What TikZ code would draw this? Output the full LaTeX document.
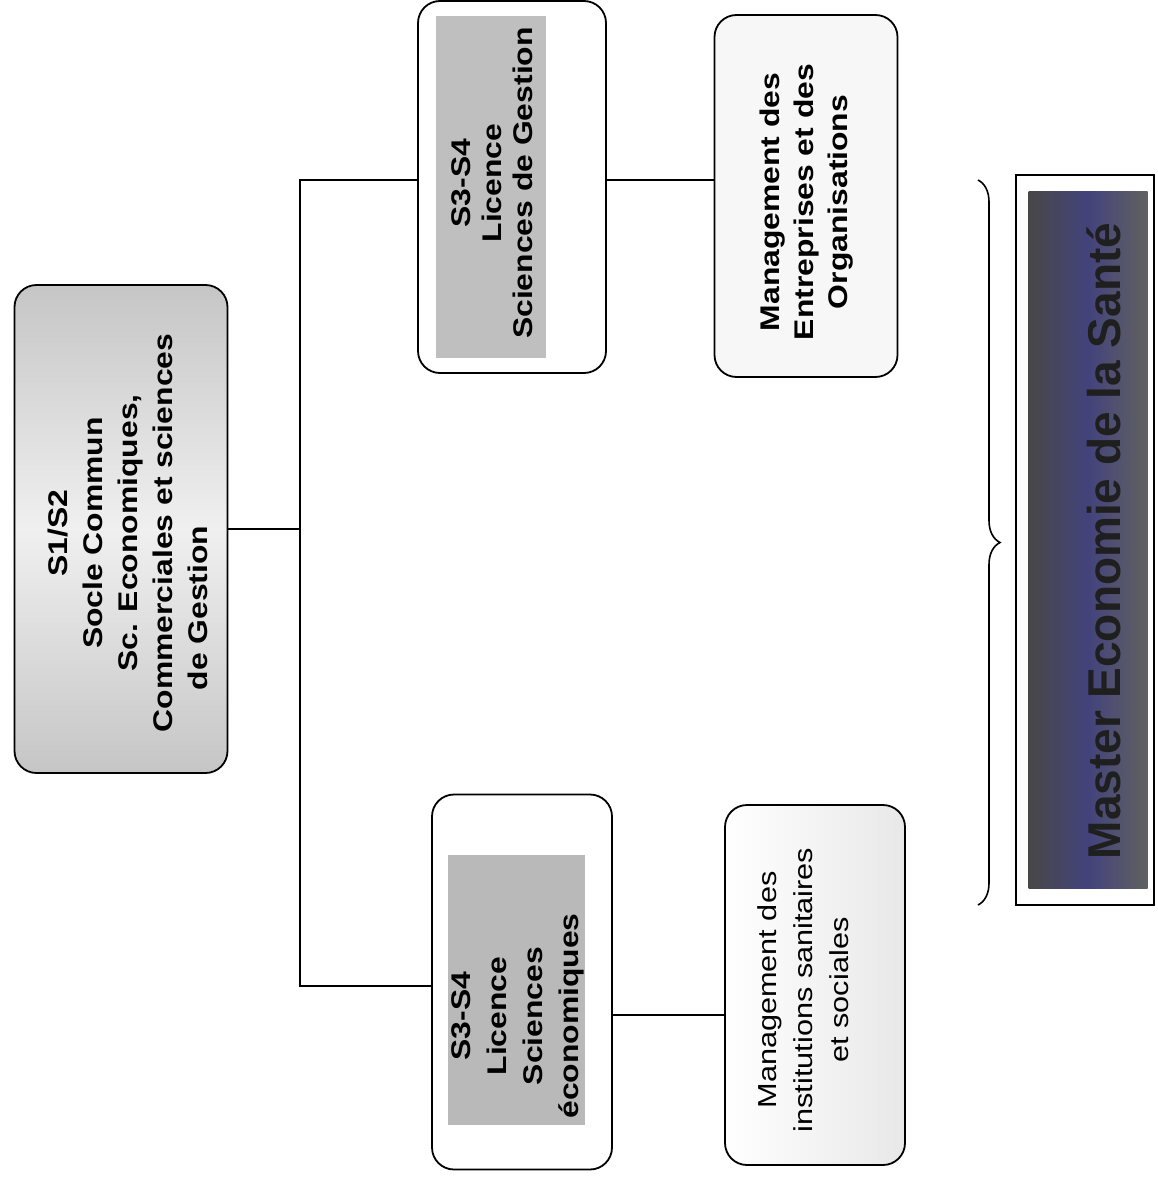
\documentclass[tikz,border=0pt]{standalone}
\usepackage{fontspec}
\setmainfont{Liberation Sans}
\newfontfamily\boxfont[FakeStretch=1.18]{Liberation Sans}
\usetikzlibrary{decorations.pathreplacing}
\tikzset{x=1pt, y=-1pt, % one unit is one pixel of the scan
roundbox/.style={ % outer frames of the boxes
draw,
line width=1.8pt,
rounded corners=22pt,
inner sep=0pt},
panel/.style={ % grey panels inside the S3-S4 boxes
inner sep=0pt},
vlabel/.style={ % texts read from bottom to top
rotate=90,
align=center,
inner sep=0pt},
link/.style={ % connecting lines
draw,
line width=1.4pt}}

\begin{document}
\begin{tikzpicture}
  \useasboundingbox (0,0) rectangle (1158,1180);
  % common core
  \node[roundbox, minimum width=213pt, minimum height=488pt,
        top color=gray!45, bottom color=gray!45, middle color=gray!12] (socle) at (121,529) {};
  \node[vlabel, font=\boxfont\bfseries\fontsize{27}{35}\selectfont] (socletxt) at (128,533)
    {S1/S2\\Socle Commun\\Sc. Economiques,\\Commerciales et sciences\\de Gestion\hspace*{150pt}};
  % licences
  \node[roundbox, fill=white, minimum width=188pt, minimum height=372pt] (licgest) at (512,187) {};
  \node[panel, fill=gray!50, minimum width=110pt, minimum height=342pt] (licgestbg) at (491,187) {};
  \node[vlabel, font=\boxfont\bfseries\fontsize{27}{31}\selectfont] (licgesttxt) at (492,183)
    {S3-S4\\Licence\\Sciences de Gestion};
  \node[roundbox, fill=white, minimum width=180pt, minimum height=375pt] (liceco) at (522,982) {};
  \node[panel, fill=gray!55, minimum width=137pt, minimum height=270pt] (licecobg) at (516,990) {};
  \node[vlabel, font=\boxfont\bfseries\fontsize{27}{36}\selectfont] (licecotxt) at (518,1016)
    {S3-S4\\Licence\\Sciences\\économiques};
  % specialisations
  \node[roundbox, fill=gray!6, minimum width=183pt, minimum height=362pt] (mgtent) at (806,196) {};
  \node[vlabel, font=\boxfont\bfseries\fontsize{27}{34}\selectfont] (mgtenttxt) at (807,202)
    {Management des\\Entreprises et des\\Organisations};
  \node[roundbox, left color=white, right color=gray!18, minimum width=180pt, minimum height=360pt] (mgtsan) at (815,985) {};
  \node[vlabel, font=\boxfont\fontsize{26}{36}\selectfont] (mgtsantxt) at (803,990)
    {Management des\\institutions sanitaires\\et sociales};
  % master
  \node[draw, line width=1.8pt, fill=white, inner sep=0pt, minimum width=138pt, minimum height=730pt] (master) at (1085,540) {};
  \node[panel, left color=black!72, right color=black!62, middle color=gray!70!blue!75!black,
        minimum width=119pt, minimum height=697pt] (masterbg) at (1088,540) {};
  \node[vlabel, text=black!88, font=\bfseries\fontsize{46}{50}\selectfont] (mastertxt) at (1104,541)
    {Master Economie de la Santé};
  % connections
  \coordinate (forktop) at (300,180);
  \coordinate (forkbot) at (300,986);
  \draw[link] (socle.east) -- (socle.east -| forktop);
  \draw[link] (licgest.west |- forktop) -- (forktop) -- (forkbot) -- (liceco.west |- forkbot);
  \draw[link] (licgest.east |- forktop) -- (mgtent.west |- forktop);
  \draw[link] ([yshift=-33pt]liceco.east) -- ([yshift=-33pt]liceco.east -| mgtsan.west);
  % brace towards the master
  \coordinate (bracetop) at (978,180);
  \coordinate (bracebot) at (978,905);
  \draw[line width=1.6pt, decorate, decoration={brace, amplitude=22pt}] (bracetop) -- (bracebot);
\end{tikzpicture}
\end{document}
